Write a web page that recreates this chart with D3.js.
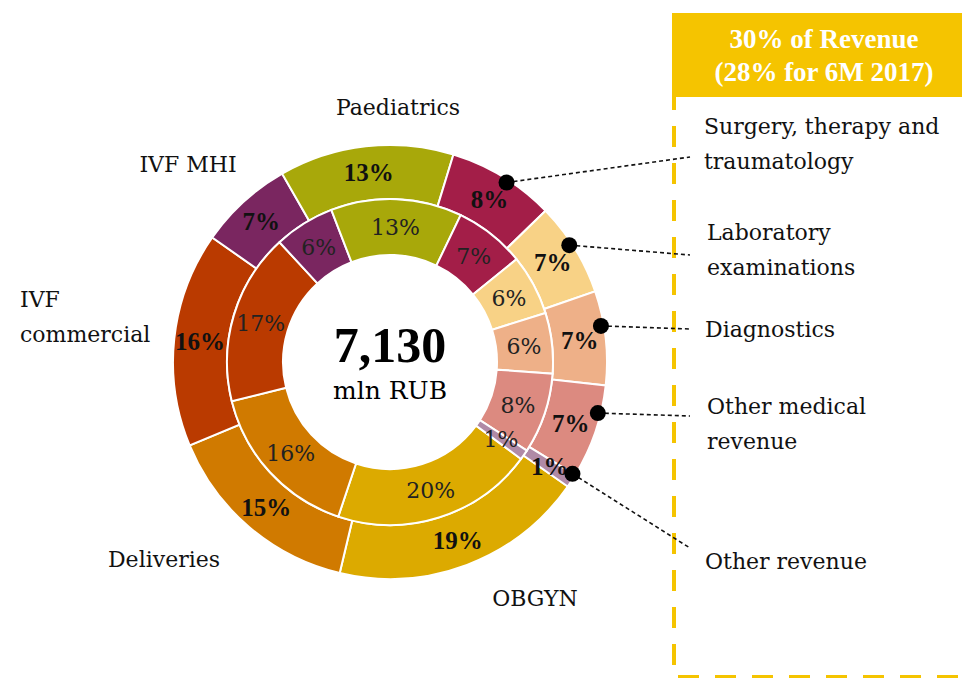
<!DOCTYPE html>
<html>
<head>
<meta charset="utf-8">
<script src="https://d3js.org/d3.v7.min.js"></script>
<style>
  body { margin: 0; background: #fff; }
  svg text { font-family: "Liberation Serif", serif; }
  svg text.reg { font-family: "DejaVu Serif", serif; }
</style>
</head>
<body>
<div id="chart"></div>
<script>
// revenue structure, share of total (%), outer ring = current period, inner ring = comparison period
const segments = ["OBGYN", "Deliveries", "IVF commercial", "IVF MHI", "Paediatrics",
  "Surgery, therapy and traumatology", "Laboratory examinations", "Diagnostics",
  "Other medical revenue", "Other revenue"];
const outerShare = [19, 15, 16, 7, 13, 8, 7, 7, 7, 1];
const innerShare = [20, 16, 17, 6, 13, 7, 6, 6, 8, 1];
const colors = ["#DCAA00", "#D07A00", "#BA3A00", "#7A2660", "#A8A80A",
  "#A31E48", "#F8D286", "#EEB088", "#DC8A80", "#B08AA6"];
const totalValue = "7,130";
const totalUnit = "mln RUB";
const headerLines = ["30% of Revenue", "(28% for 6M 2017)"];

// label text lines per segment (left labels plain, right ones with leader lines)
const labelLines = [["OBGYN"], ["Deliveries"], ["IVF", "commercial"], ["IVF MHI"], ["Paediatrics"],
  ["Surgery, therapy and", "traumatology"], ["Laboratory", "examinations"], ["Diagnostics"],
  ["Other medical", "revenue"], ["Other revenue"]];
const labelPos = [
  { x: 535, y: 606, anchor: "middle" },
  { x: 164, y: 567, anchor: "middle" },
  { x: 20, y: 307, anchor: "start" },
  { x: 188, y: 172, anchor: "middle" },
  { x: 398, y: 115, anchor: "middle" },
  { x: 704, y: 134, anchor: "start", ly: 157, da: 1.6 },
  { x: 707, y: 240, anchor: "start", ly: 255, da: -1.5 },
  { x: 705, y: 337, anchor: "start", ly: 329, da: -3.3 },
  { x: 707, y: 414, anchor: "start", ly: 416, da: -5 },
  { x: 705, y: 569, anchor: "start", ly: 548, da: -1.7 }
];

const width = 962, height = 678;
const cx = 390, cy = 362;
const rHole = 107, rMid = 163, rOut = 217;
const deg = Math.PI / 180;

const svg = d3.select("#chart").append("svg")
  .attr("width", width).attr("height", height)
  .style("display", "block");

// right-hand box
const yellow = "#F5C400";
svg.append("rect")
  .attr("x", 672).attr("y", 13).attr("width", 300).attr("height", 84)
  .attr("fill", yellow);
svg.append("path")
  .attr("d", "M970,15 H674 V677 H970")
  .attr("fill", "none")
  .attr("stroke", yellow)
  .attr("stroke-width", 4)
  .attr("stroke-dasharray", "21 16");
svg.append("g").selectAll("text")
  .data(headerLines)
  .enter().append("text")
  .attr("x", 824)
  .attr("y", (d, i) => 48 + i * 33)
  .attr("text-anchor", "middle")
  .attr("fill", "#fff")
  .attr("font-weight", "bold")
  .attr("font-size", 27)
  .text(d => d);

const data = segments.map((s, i) => ({ name: s, outer: outerShare[i], inner: innerShare[i], color: colors[i], i }));

function makePie(key, start) {
  return d3.pie().sort(null).value(d => d[key])
    .startAngle(start * deg).endAngle(start * deg + 2 * Math.PI)(data);
}
const outerArcs = makePie("outer", 125);
const innerArcs = makePie("inner", 126.5);

const arcOuter = d3.arc().innerRadius(rMid).outerRadius(rOut);
const arcInner = d3.arc().innerRadius(rHole).outerRadius(rMid);

const g = svg.append("g").attr("transform", `translate(${cx},${cy})`);

g.append("g").selectAll("path")
  .data(outerArcs)
  .enter().append("path")
  .attr("d", arcOuter)
  .attr("fill", d => d.data.color)
  .attr("stroke", "#fff")
  .attr("stroke-width", 2);

g.append("g").selectAll("path")
  .data(innerArcs)
  .enter().append("path")
  .attr("d", arcInner)
  .attr("fill", d => d.data.color)
  .attr("stroke", "#fff")
  .attr("stroke-width", 2);

const midR = 191;
g.append("g").selectAll("text")
  .data(outerArcs)
  .enter().append("text")
  .attr("transform", d => {
    const a = (d.startAngle + d.endAngle) / 2;
    return `translate(${Math.sin(a) * midR},${-Math.cos(a) * midR})`;
  })
  .attr("dy", "0.35em")
  .attr("text-anchor", "middle")
  .attr("font-weight", "bold")
  .attr("font-size", 25)
  .attr("fill", "#111")
  .text(d => d.data.outer + "%");

const inR = (rHole + rMid) / 2;
g.append("g").selectAll("text")
  .data(innerArcs)
  .enter().append("text")
  .attr("class", "reg")
  .attr("transform", d => {
    const a = (d.startAngle + d.endAngle) / 2;
    return `translate(${Math.sin(a) * inR},${-Math.cos(a) * inR})`;
  })
  .attr("dy", "0.35em")
  .attr("text-anchor", "middle")
  .attr("font-size", 22)
  .attr("fill", "#222")
  .text(d => d.data.inner + "%");

// centre total
g.append("text")
  .attr("y", 0).attr("text-anchor", "middle")
  .attr("font-weight", "bold").attr("font-size", 50)
  .text(totalValue);
g.append("text")
  .attr("class", "reg")
  .attr("y", 37).attr("text-anchor", "middle")
  .attr("font-size", 25)
  .text(totalUnit);

// leader lines + dots for the right-hand segments
const leaders = outerArcs.filter(d => labelPos[d.data.i].ly !== undefined);
const dotR = 214;
const lg = svg.append("g");
leaders.forEach(d => {
  const p = labelPos[d.data.i];
  const a = (d.startAngle + d.endAngle) / 2 + p.da * deg;
  const x0 = cx + Math.sin(a) * dotR, y0 = cy - Math.cos(a) * dotR;
  lg.append("line")
    .attr("x1", x0).attr("y1", y0)
    .attr("x2", 690).attr("y2", p.ly)
    .attr("stroke", "#111").attr("stroke-width", 1.6)
    .attr("stroke-dasharray", "4 3");
  lg.append("circle")
    .attr("cx", x0).attr("cy", y0).attr("r", 8)
    .attr("fill", "#000");
});

// category labels
const labels = svg.append("g").selectAll("text")
  .data(data)
  .enter().append("text")
  .attr("class", "reg")
  .attr("x", d => labelPos[d.i].x)
  .attr("y", d => labelPos[d.i].y)
  .attr("text-anchor", d => labelPos[d.i].anchor)
  .attr("font-size", 22)
  .attr("fill", "#111");
labels.selectAll("tspan")
  .data(d => labelLines[d.i].map(t => ({ t, x: labelPos[d.i].x })))
  .enter().append("tspan")
  .attr("x", d => d.x)
  .attr("dy", (d, i) => i === 0 ? 0 : 35)
  .text(d => d.t);
</script>
</body>
</html>
